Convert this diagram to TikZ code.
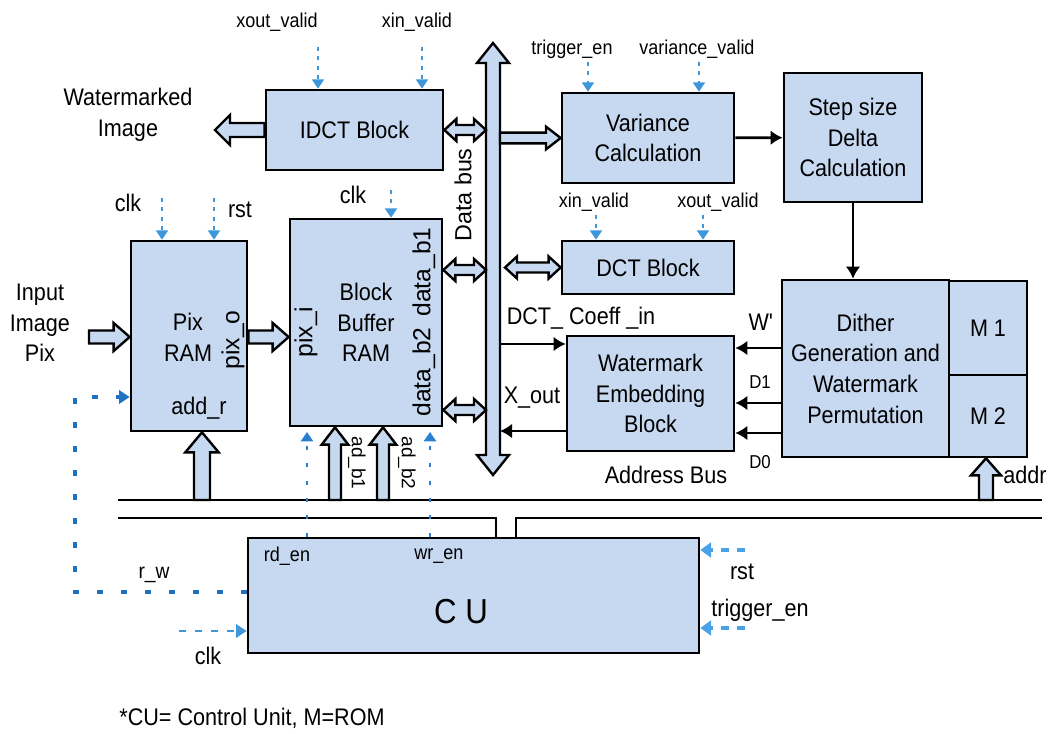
\documentclass[tikz,border=0pt]{standalone}
\usepackage{fontspec}
\setmainfont{Liberation Sans}[FakeStretch=0.9]
\newfontfamily\rotfont{Liberation Sans}
\usepackage{tikz}
\usetikzlibrary{
  arrows.meta,
  calc,
}
\definecolor{blockFill}{HTML}{C6D9F0}
\definecolor{sigBlue}{HTML}{3D97DA}
\definecolor{ctlBlue}{HTML}{1F72C2}
\definecolor{enBlue}{HTML}{2A80D0}
\definecolor{cuBlue}{HTML}{4AA3E6}
\tikzset{
  blockbox/.style={
    rectangle, draw=black, line width=2pt, fill=blockFill,
    inner sep=0pt, align=center, font=\fontsize{18}{23}\selectfont,
  },
  txt/.style={
    inner sep=0pt, align=center, font=\fontsize{18}{23}\selectfont,
  },
  sigtxt/.style={
    inner sep=0pt, font=\fontsize{15}{18}\selectfont,
  },
  dtxt/.style={
    inner sep=0pt, font=\fontsize{14}{16}\selectfont,
  },
  rottxt/.style={
    inner sep=0pt, rotate=90, font=\rotfont\fontsize{18.5}{20}\selectfont,
  },
  adtxt/.style={
    inner sep=0pt, rotate=-90, font=\rotfont\fontsize{14.3}{16}\selectfont,
  },
  busLine/.style={line width=2.2pt, draw=black},
  arrowThin/.style={
    -{Latex[length=9pt,width=11pt]}, line width=2pt, draw=black,
  },
  arrowSig/.style={
    -{Triangle[length=7pt,width=9pt]}, line width=1.4pt, draw=sigBlue,
    dash pattern=on 3pt off 4pt,
  },
  arrowCtl/.style={
    -{Triangle[length=8pt,width=10pt]}, line width=2.6pt, draw=ctlBlue,
    dash pattern=on 4pt off 14pt,
  },
  arrowEn/.style={
    -{Triangle[length=7pt,width=9pt]}, line width=1.8pt, draw=enBlue,
    dash pattern=on 3pt off 10pt,
  },
  arrowClk/.style={
    -{Triangle[length=8pt,width=10pt]}, line width=1.8pt, draw=sigBlue,
    dash pattern=on 5pt off 7pt,
  },
  arrowCU/.style={
    -{Triangle[length=8pt,width=11pt]}, line width=2.5pt, draw=cuBlue,
    dash pattern=on 6pt off 6pt,
  },
  fatArrow/.style n args={3}{
    draw=black, line width=1.8pt, fill=blockFill, line join=miter,
    to path={
      let \p1=(\tikztostart), \p2=(\tikztotarget),
          \n1={atan2(\y2-\y1,\x2-\x1)},
          \n2={veclen(\x2-\x1,\y2-\y1)-#3} in
      ($(\p1)+({\n1+90}:#1)$)
      -- ($(\p1)+({\n1}:{\n2*1pt})+({\n1+90}:#1)$)
      -- ($(\p1)+({\n1}:{\n2*1pt})+({\n1+90}:#2)$)
      -- (\p2)
      -- ($(\p1)+({\n1}:{\n2*1pt})+({\n1-90}:#2)$)
      -- ($(\p1)+({\n1}:{\n2*1pt})+({\n1-90}:#1)$)
      -- ($(\p1)+({\n1-90}:#1)$) -- cycle
    },
  },
  fatDouble/.style n args={3}{
    draw=black, line width=1.8pt, fill=blockFill, line join=miter,
    to path={
      let \p1=(\tikztostart), \p2=(\tikztotarget),
          \n1={atan2(\y2-\y1,\x2-\x1)},
          \n2={veclen(\x2-\x1,\y2-\y1)-#3} in
      (\p1)
      -- ($(\p1)+({\n1}:#3)+({\n1+90}:#2)$)
      -- ($(\p1)+({\n1}:#3)+({\n1+90}:#1)$)
      -- ($(\p1)+({\n1}:{\n2*1pt})+({\n1+90}:#1)$)
      -- ($(\p1)+({\n1}:{\n2*1pt})+({\n1+90}:#2)$)
      -- (\p2)
      -- ($(\p1)+({\n1}:{\n2*1pt})+({\n1-90}:#2)$)
      -- ($(\p1)+({\n1}:{\n2*1pt})+({\n1-90}:#1)$)
      -- ($(\p1)+({\n1}:#3)+({\n1-90}:#1)$)
      -- ($(\p1)+({\n1}:#3)+({\n1-90}:#2)$)
      -- cycle
    },
  },
}

\begin{document}
\begin{tikzpicture}[x=0.75pt, y=-0.75pt]
\fill[white] (0,0) rectangle (1058,734);
\useasboundingbox (0,0) rectangle (1058,734);

% Blocks
\node[blockbox, minimum width=132.75pt, minimum height=60pt] (idct) at (354.5,130) {IDCT Block};
\node[blockbox, minimum width=87pt, minimum height=142.5pt] (pixram) at (189,336) {};
\node[blockbox, minimum width=114pt, minimum height=155.25pt] (bbr) at (366,322.5) {Block\\Buffer\\RAM};
\node[blockbox, minimum width=129pt, minimum height=67.5pt] (variance) at (648,138) {Variance\\Calculation};
\node[blockbox, minimum width=103.5pt, minimum height=96.75pt] (step) at (853,137.5) {Step size\\Delta\\Calculation};
\node[blockbox, minimum width=129pt, minimum height=39.75pt] (dct) at (648,267.5) {DCT Block};
\node[blockbox, minimum width=125.25pt, minimum height=86.25pt] (web) at (650.5,393.5) {Watermark\\Embedding\\Block};
\node[blockbox, minimum width=125.25pt, minimum height=132.75pt] (dither) at (865.5,368.5) {Dither\\Generation and\\Watermark\\Permutation};
\node[blockbox, minimum width=58.5pt, minimum height=70.5pt] (mone) at (988,328) {M 1};
\node[blockbox, minimum width=58.5pt, minimum height=61.5pt] (mtwo) at (988,416) {M 2};
\node[blockbox, minimum width=338.25pt, minimum height=86.25pt] (cu) at (473.5,595.5) {};

% Texts
\node[txt] (wmImg) at (128,115) {Watermarked\\Image};
\node[txt] (inPix) at (40,323) {Input\\Image\\Pix};
\node[txt] (pixLbl) at (188,337) {Pix\\RAM};
\node[txt] (addR) at (199,408) {add\_r};
\node[rottxt] (pixO) at (233,340) {pix\_o};
\node[rottxt] (pixI) at (306,332) {pix\_i};
\node[rottxt] (dataBone) at (424,272) {data\_b1};
\node[rottxt] (dataBtwo) at (424,372) {data\_b2};
\node[rottxt, font=\rotfont\fontsize{17.5}{20}\selectfont] (busLbl) at (463,195) {Data bus};
\node[adtxt] (adOneLbl) at (357,463) {ad\_b1};
\node[adtxt] (adTwoLbl) at (407,463) {ad\_b2};
\node[sigtxt] (xoutLblI) at (277,22) {xout\_valid};
\node[sigtxt] (xinLblI) at (417,22) {xin\_valid};
\node[txt] (clkP) at (128,203) {clk};
\node[txt] (rstP) at (240,210) {rst};
\node[txt] (clkB) at (353,195) {clk};
\node[sigtxt] (trigLblV) at (572,49) {trigger\_en};
\node[sigtxt] (varvLbl) at (697,49) {variance\_valid};
\node[sigtxt] (xinLblD) at (594,202) {xin\_valid};
\node[sigtxt] (xoutLblD) at (718,202) {xout\_valid};
\node[txt] (coeffLbl) at (581,318) {DCT\_ Coeff \_in};
\node[txt] (xoutLbl) at (532,398) {X\_out};
\node[txt] (wLbl) at (761,322) {W\textquotesingle};
\node[dtxt] (dOneLbl) at (760,382) {D1};
\node[dtxt] (dZeroLbl) at (760,462) {D0};
\node[txt] (abusLbl) at (666,475) {Address Bus};
\node[txt] (addrLbl) at (1025,475) {addr};
\node[sigtxt] (rdLbl) at (287,556) {rd\_en};
\node[sigtxt] (wrLbl) at (439,556) {wr\_en};
\node[txt, font=\fontsize{16}{18}\selectfont] (rwLbl) at (154,575) {r\_w};
\node[txt, font=\fontsize{26}{30}\selectfont] (cuLbl) at (461,612) {C U};
\node[txt] (clkC) at (208,656) {clk};
\node[txt] (rstC) at (742,572) {rst};
\node[txt] (trigC) at (760,610) {trigger\_en};
\node[txt] (noteLbl) at (252,718) {*CU= Control Unit, M=ROM};

% Data bus and its taps
\coordinate (busTop) at (493,43);
\coordinate (busBot) at (493,475);
\coordinate (busW) at (486,0);
\coordinate (busE) at (500,0);
\coordinate (dctGap) at (505,0);
\draw[fatDouble={5.25pt}{12pt}{15pt}] (busBot) to (busTop);
\draw[fatDouble={3.75pt}{8.25pt}{9pt}] (idct.east) to (idct.east -| busW);
\foreach \yy in {270,410}
  \draw[fatDouble={3.75pt}{8.25pt}{9pt}] (bbr.east |- 0,\yy) to (busW |- 0,\yy);
\draw[fatDouble={3.75pt}{8.25pt}{9pt}] (dct.west -| dctGap) to (dct.west);
\draw[fatArrow={4pt}{8.5pt}{11pt}] (busE |- variance.west) to (variance.west);

% Pixel path
\coordinate (wmTip) at (215,0);
\coordinate (inTail) at (89,337);
\draw[fatArrow={5.25pt}{11.25pt}{11.25pt}] (idct.west) to (idct.west -| wmTip);
\draw[fatArrow={4.9pt}{10.5pt}{12pt}] (inTail) to (inTail -| pixram.west);
\draw[fatArrow={4.9pt}{10.5pt}{12pt}] (pixram.east |- inTail) to (bbr.west |- inTail);

% Address bus
\coordinate (pixAd) at (202,500);
\coordinate (adOne) at (335,500);
\coordinate (adTwo) at (383,500);
\coordinate (addrUp) at (986,500);
\draw[fatArrow={6pt}{12.5pt}{15pt}] (pixAd) to (pixAd |- pixram.south);
\foreach \c in {adOne,adTwo}
  \draw[fatArrow={4.5pt}{10pt}{13pt}] (\c) to (\c |- bbr.south);
\draw[fatArrow={5.25pt}{11.25pt}{12.75pt}] (addrUp) to (addrUp |- mtwo.south);
\draw[busLine] (118,500) -- (1042,500);
\draw[busLine] (118,518) -- (496,518) -- (496,538);
\draw[busLine] (516,538) -- (516,518) -- (1042,518);

% Flow arrows
\coordinate (coeffTap) at (500,344);
\coordinate (xoutTap) at (500,431);
\draw[arrowThin] (variance) -- (step);
\draw[arrowThin] (step.south) -- (step.south |- dither.north);
\draw[arrowThin] (coeffTap) -- (coeffTap -| web.west);
\draw[arrowThin] (xoutTap -| web.west) -- (xoutTap);
\foreach \yy in {348,403,433}
  \draw[arrowThin] (dither.west |- 0,\yy) -- (web.east |- 0,\yy);

% Control signals
\coordinate (xoutI) at (318,47);
\coordinate (xinI) at (422,47);
\coordinate (trigV) at (588,62);
\coordinate (varvV) at (699,62);
\coordinate (xinD) at (596,215);
\coordinate (xoutD) at (703,215);
\coordinate (clkPix) at (162,198);
\coordinate (rstPix) at (214,198);
\coordinate (clkBuf) at (391,190);
\foreach \c in {xoutI,xinI} \draw[arrowSig] (\c) -- (\c |- idct.north);
\foreach \c in {trigV,varvV} \draw[arrowSig] (\c) -- (\c |- variance.north);
\foreach \c in {xinD,xoutD} \draw[arrowSig] (\c) -- (\c |- dct.north);
\foreach \c in {clkPix,rstPix} \draw[arrowSig] (\c) -- (\c |- pixram.north);
\draw[arrowSig] (clkBuf) -- (clkBuf |- bbr.north);

\coordinate (rdTip) at (307,432);
\coordinate (wrTip) at (430,432);
\foreach \c in {rdTip,wrTip} \draw[arrowEn] (\c |- cu.north) -- (\c);

\coordinate (rwCorner) at (75,592);
\coordinate (rwIn) at (131,397);
\draw[arrowCtl] (cu.west |- rwCorner) -- (rwCorner) |- (pixram.west |- rwIn);

\coordinate (clkCU) at (179,631);
\coordinate (rstCU) at (745,550);
\coordinate (trigCU) at (745,628);
\draw[arrowClk] (clkCU) -- (clkCU -| cu.west);
\foreach \c in {rstCU,trigCU} \draw[arrowCU] (\c) -- (\c -| cu.east);

\end{tikzpicture}
\end{document}
